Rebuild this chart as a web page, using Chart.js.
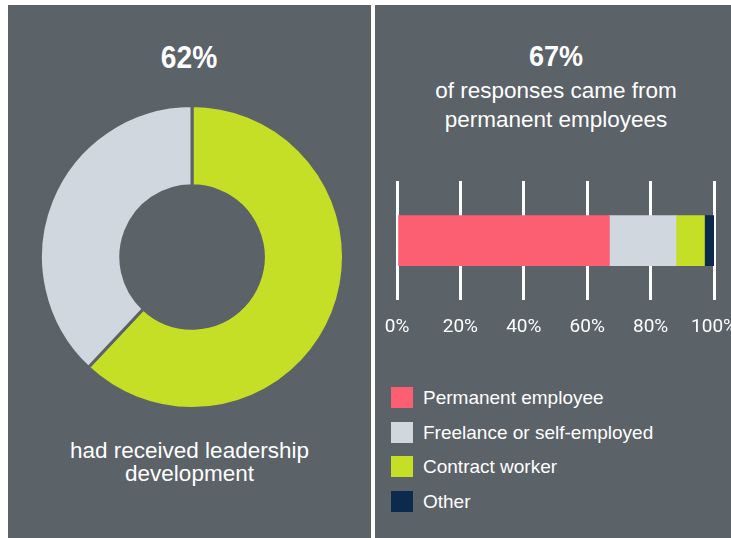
<!DOCTYPE html>
<html>
<head>
<meta charset="utf-8">
<script src="https://cdn.jsdelivr.net/npm/chart.js@4.4.1/dist/chart.umd.min.js"></script>
<style>
  html, body { margin: 0; padding: 0; background: #ffffff; width: 731px; height: 538px; overflow: hidden; }
  .panel { position: absolute; background: #5b6268; }
  .txt { position: absolute; color: #ffffff; text-align: center; white-space: nowrap; font-family: 'Liberation Sans', Arial, sans-serif; }
  .big { font-weight: bold; }
  .big span { display: inline-block; transform-origin: center; }
  .sub { font-size: 22.5px; }
  #legend { position: absolute; left: 391px; top: 387px; }
  .lrow { position: absolute; left: 0; display: flex; align-items: center; height: 21px; white-space: nowrap; }
  .lbox { width: 22px; height: 21px; margin-right: 10px; }
  .ltxt { color: #ffffff; font-family: 'Liberation Sans', Arial, sans-serif; font-size: 19px; line-height: 21px; }
  canvas { position: absolute; }
</style>
</head>
<body>
<div class="panel" style="left:8px; top:5px; width:363px; height:533px;"></div>
<div class="panel" style="left:375px; top:5px; width:356px; height:533px;"></div>

<div class="txt big" style="left:8px; width:363px; top:41px; font-size:32px; line-height:32px;"><span style="transform:scaleX(0.88);">62%</span></div>
<div class="txt sub" style="left:8px; width:363px; top:439px; line-height:23px;">had received leadership<br>development</div>

<div class="txt big" style="left:378px; width:356px; top:41px; font-size:30px; line-height:30px;"><span style="transform:scaleX(0.9);">67%</span></div>
<div class="txt sub" style="left:378px; width:356px; top:76px; line-height:29px;">of responses came from<br>permanent employees</div>

<div id="donutWrap" style="position:absolute; left:39px; top:104px; width:306px; height:306px;"><canvas id="donut" width="306" height="306"></canvas></div>
<div id="barWrap" style="position:absolute; left:376px; top:170px; width:380px; height:173px;"><canvas id="bar" width="380" height="173"></canvas></div>
<div id="legend"></div>

<script>
// ---- data ----
const donutLabels = ['Had received leadership development', 'Had not received leadership development'];
const donutValues = [62, 38];
const donutColors = ['#c5df26', '#d0d7de'];

const barCategories = ['Permanent employee', 'Freelance or self-employed', 'Contract worker', 'Other'];
const barValues = [67, 21, 9, 3];
const barColors = ['#fd5f72', '#d0d7de', '#c5df26', '#0b2a4d'];
const tickValues = [0, 20, 40, 60, 80, 100];

const bg = '#5b6268';

new Chart(document.getElementById('donut'), {
  type: 'doughnut',
  data: {
    labels: donutLabels,
    datasets: [{ data: donutValues, backgroundColor: donutColors, borderColor: bg, borderWidth: 3 }]
  },
  options: {
    responsive: false,
    animation: false,
    cutout: '47%',
    plugins: { legend: { display: false }, tooltip: { enabled: false } }
  }
});

new Chart(document.getElementById('bar'), {
  type: 'bar',
  data: {
    labels: [''],
    datasets: barCategories.map((c, i) => ({
      label: c, data: [barValues[i]], backgroundColor: barColors[i], borderWidth: 0, barThickness: 50
    }))
  },
  options: {
    responsive: false,
    animation: false,
    indexAxis: 'y',
    layout: { padding: { left: 21, right: 42, top: 11, bottom: 4 } },
    scales: {
      x: {
        stacked: true, min: 0, max: 100,
        afterBuildTicks: (s) => { s.ticks = tickValues.map(v => ({ value: v })); },
        ticks: {
          color: '#ffffff', padding: 0, maxRotation: 0, autoSkip: false,
          font: { family: "Roboto, 'Liberation Sans', sans-serif", size: 19 },
          callback: (v) => v + '%'
        },
        grid: { color: '#ffffff', lineWidth: 3, drawTicks: true, tickLength: 16, tickColor: 'rgba(0,0,0,0)' },
        border: { display: false }
      },
      y: { stacked: true, display: false }
    },
    plugins: { legend: { display: false }, tooltip: { enabled: false } }
  }
});

const legend = document.getElementById('legend');
barCategories.forEach((c, i) => {
  const row = document.createElement('div');
  row.className = 'lrow';
  row.style.top = (i * 34.7) + 'px';
  const box = document.createElement('div');
  box.className = 'lbox';
  box.style.background = barColors[i];
  const t = document.createElement('span');
  t.className = 'ltxt';
  t.textContent = c;
  row.appendChild(box); row.appendChild(t);
  legend.appendChild(row);
});
</script>
</body>
</html>
